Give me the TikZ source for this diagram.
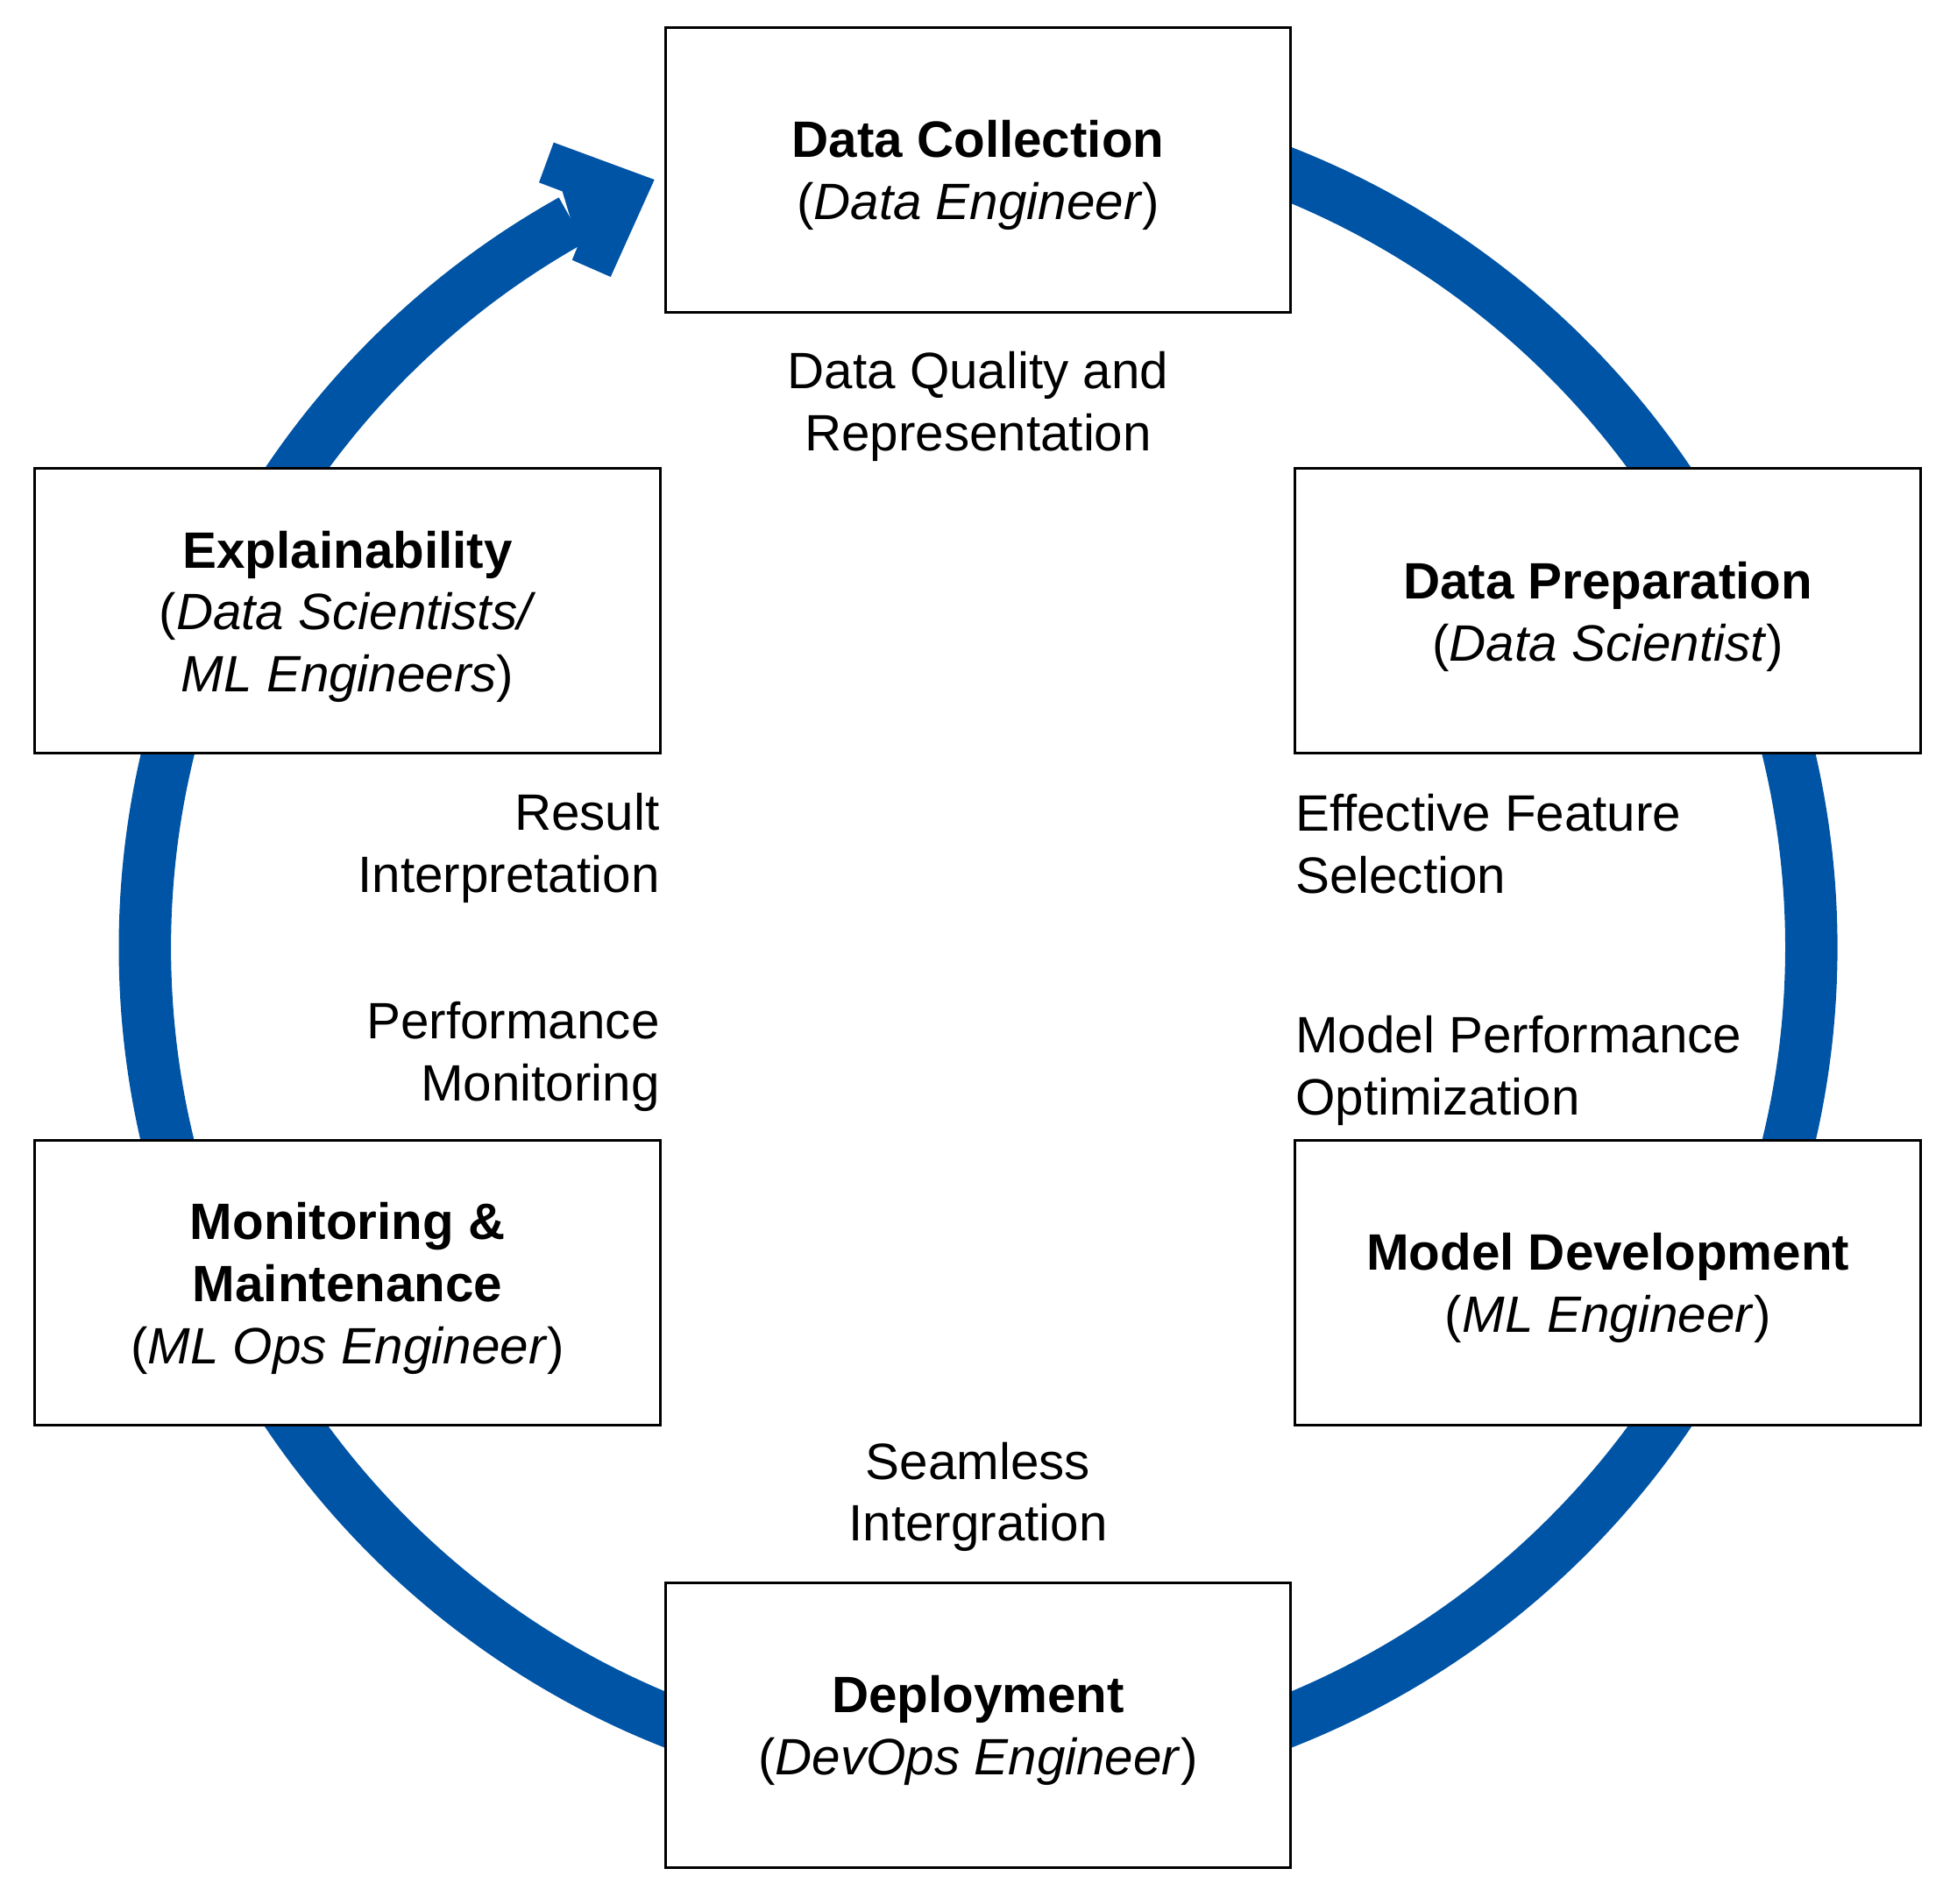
\documentclass[tikz,border=0pt]{standalone}
\usepackage{fontspec}
\setmainfont{Liberation Sans}
\usepackage{tikz}
\usetikzlibrary{arrows,positioning}
\definecolor{ringblue}{RGB}{0,84,166}
\tikzset{
  stage/.style={draw=black, line width=0.6pt, fill=white, minimum width=5.03cm,
    minimum height=2.29cm, inner sep=0pt},
  stagetext/.style={inner sep=0pt, align=center, yshift=-0.045cm},
  note/.style={inner sep=0pt},
  ring/.style={draw=ringblue, line width=0.42cm},
}

\begin{document}
\begin{tikzpicture}[font=\fontsize{11.7}{14.2}\selectfont]
\useasboundingbox (0,0) rectangle (15.68,-15.31);
% サイクルの輪
\coordinate (ctr) at (7.865,-7.62);
\draw[ring] ([shift={(90:6.7)}]ctr) arc[start angle=90, end angle=-240.8, radius=6.7];
\fill[ringblue] (4.334,-1.468) -- (4.452,-1.146) -- (5.262,-1.445) -- (4.910,-2.227)
  -- (4.600,-2.091) -- (4.651,-1.968) -- (4.522,-1.539) -- cycle;

\node[stage] (collect) at (7.865,-1.365) {};
\node[stage] (prep) at (12.93,-4.915) {};
\node[stage] (model) at (12.93,-10.315) {};
\node[stage] (deploy) at (7.865,-13.875) {};
\node[stage] (monitor) at (2.795,-10.315) {};
\node[stage] (explain) at (2.795,-4.915) {};
\node[stagetext] at (collect) {\textbf{Data Collection}\\(\textit{Data Engineer})};
\node[stagetext] at (prep) {\textbf{Data Preparation}\\(\textit{Data Scientist})};
\node[stagetext] at (model) {\textbf{Model Development}\\(\textit{ML Engineer})};
\node[stagetext] at (deploy) {\textbf{Deployment}\\(\textit{DevOps Engineer})};
\node[stagetext] at (monitor) {\textbf{Monitoring \&}\\\textbf{Maintenance}\\(\textit{ML Ops Engineer})};
\node[stagetext] at (explain) {\textbf{Explainability}\\(\textit{Data Scientists/}\\\textit{ML Engineers})};

\node[note, align=center] (quality) at (7.865,-3.27) {Data Quality and\\Representation};
\node[note, align=left, anchor=west] (feature) at (10.41,-6.79) {Effective Feature\\Selection};
\node[note, align=left, anchor=west] (optim) at (10.41,-8.61) {Model Performance\\Optimization};
\node[note, align=center] (integr) at (7.865,-12.04) {Seamless\\Intergration};
\node[note, align=right, anchor=east] (perf) at (5.31,-8.50) {Performance\\Monitoring};
\node[note, align=right, anchor=east] (interp) at (5.31,-6.82) {Result\\Interpretation};
\end{tikzpicture}
\end{document}
